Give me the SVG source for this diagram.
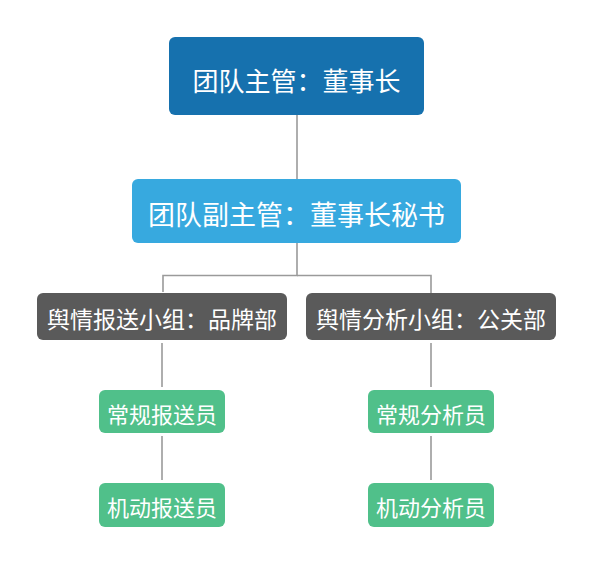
<svg xmlns="http://www.w3.org/2000/svg" width="593" height="565" viewBox="0 0 593 565">
<style>
.t{font-family:"Noto Sans CJK SC","Noto Sans",sans-serif;fill:#fff;text-anchor:middle;dominant-baseline:central}
.c{stroke:#9a9a9a;stroke-width:1.6;fill:none}
</style>
<rect width="593" height="565" fill="#fff"/>
<g id="connectors">
<line class="c" x1="297" y1="115" x2="297" y2="179"/>
<polyline class="c" points="297,243 297,275.5 163,275.5 163,292"/>
<polyline class="c" points="297,275.5 431,275.5 431,293"/>
<line class="c" x1="162" y1="343" x2="162" y2="387"/>
<line class="c" x1="431" y1="343" x2="431" y2="387"/>
<line class="c" x1="162" y1="436" x2="162" y2="480"/>
<line class="c" x1="431" y1="436" x2="431" y2="480"/>
</g>
<g id="n1"><rect x="169" y="37" width="255" height="78" rx="6" fill="#1671ae"/><text class="t" x="296.5" y="79.5" font-size="26">团队主管：董事长</text></g>
<g id="n2"><rect x="132" y="179" width="329" height="64" rx="6" fill="#37a9df"/><text class="t" x="296.5" y="213" font-size="27">团队副主管：董事长秘书</text></g>
<g id="n3"><rect x="37" y="293" width="250" height="47" rx="6" fill="#5a5a5a"/><text class="t" x="162" y="318" font-size="23">舆情报送小组：品牌部</text></g>
<g id="n4"><rect x="306" y="293" width="250" height="47" rx="6" fill="#5a5a5a"/><text class="t" x="431" y="318" font-size="23">舆情分析小组：公关部</text></g>
<g id="n5"><rect x="99" y="390" width="126" height="43" rx="6" fill="#50c08a"/><text class="t" x="162" y="413" font-size="22">常规报送员</text></g>
<g id="n6"><rect x="368" y="390" width="126" height="43" rx="6" fill="#50c08a"/><text class="t" x="431" y="413" font-size="22">常规分析员</text></g>
<g id="n7"><rect x="99" y="483" width="126" height="44" rx="6" fill="#50c08a"/><text class="t" x="162" y="506" font-size="22">机动报送员</text></g>
<g id="n8"><rect x="368" y="483" width="126" height="44" rx="6" fill="#50c08a"/><text class="t" x="431" y="506" font-size="22">机动分析员</text></g>
</svg>
